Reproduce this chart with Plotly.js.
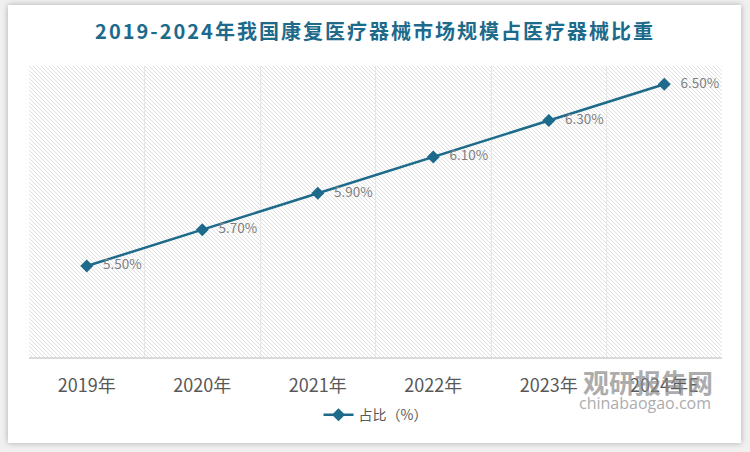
<!DOCTYPE html>
<html>
<head>
<meta charset="utf-8">
<script src="https://cdn.plot.ly/plotly-3.0.1.min.js"></script>
<style>
  html, body { margin: 0; padding: 0; background: #f0f0f0; }
  #wrap { position: relative; width: 750px; height: 452px; overflow: hidden; }
  #card { position: absolute; left: 8px; top: 5px; width: 733px; height: 438px; background: #ffffff;
          box-shadow: 0 0 6px rgba(0,0,0,0.28); }
  #chart { position: absolute; left: 0; top: 0; width: 750px; height: 452px; }
  #chart .gtitle { letter-spacing: 2px; }
</style>
</head>
<body>
<div id="wrap">
  <div id="card"></div>
  <div id="chart"></div>
</div>
<script>
const titleText = '2019-2024年我国康复医疗器械市场规模占医疗器械比重';
const categories = ['2019年', '2020年', '2021年', '2022年', '2023年', '2024年E'];
const shareValues = [5.5, 5.7, 5.9, 6.1, 6.3, 6.5];
const seriesName = '占比（%）';

const mainColor = '#1d6a8b';
const cjk = '"Noto Sans CJK SC", "Noto Sans", sans-serif';

// hatched background for the plot area
const pw = 693, ph = 291;
const hatchSvg =
  '<svg xmlns="http://www.w3.org/2000/svg" width="' + pw + '" height="' + ph + '">' +
  '<defs><pattern id="h" patternUnits="userSpaceOnUse" width="4" height="4">' +
  '<rect width="4" height="4" fill="#ffffff"/>' +
  '<path d="M-1,-1 L5,5 M-1,3 L1,5 M3,-1 L5,1" stroke="#e0e0e0" stroke-width="1"/>' +
  '</pattern></defs><rect width="' + pw + '" height="' + ph + '" fill="url(#h)"/></svg>';
const hatchUri = 'data:image/svg+xml;base64,' + btoa(hatchSvg);

const trace = {
  type: 'scatter',
  mode: 'lines+markers+text',
  x: categories,
  y: shareValues,
  name: seriesName,
  line: { color: mainColor, width: 2.5 },
  marker: { symbol: 'diamond', size: 10, color: mainColor },
  texttemplate: '\u00a0\u00a0\u00a0%{y:.2f}%',
  textposition: 'middle right',
  textfont: { family: cjk, size: 13.5, color: '#7f7f7f' },
  cliponaxis: false,
  hoverinfo: 'skip'
};

const layout = {
  width: 750,
  height: 452,
  margin: { l: 29, r: 28, t: 66, b: 95 },
  paper_bgcolor: 'rgba(0,0,0,0)',
  plot_bgcolor: 'rgba(0,0,0,0)',
  title: {
    text: '<b>' + titleText + '</b>',
    font: { family: cjk, size: 20, color: mainColor },
    x: 0.5, xanchor: 'center',
    y: 1 - 32 / 452, yanchor: 'middle', yref: 'container'
  },
  xaxis: {
    type: 'category',
    range: [-0.5, 5.5],
    tickson: 'boundaries',
    showgrid: true,
    gridcolor: '#e6e6e6',
    gridwidth: 1,
    showline: true,
    linecolor: '#d9d9d9',
    linewidth: 1.5,
    ticks: '',
    ticklabelstandoff: 12,
    tickfont: { family: cjk, size: 18, color: '#595959' },
    zeroline: false,
    fixedrange: true
  },
  yaxis: {
    range: [5.0, 6.6],
    showgrid: false,
    showticklabels: false,
    zeroline: false,
    showline: false,
    ticks: '',
    fixedrange: true
  },
  showlegend: true,
  legend: {
    orientation: 'h',
    x: 0.5, xanchor: 'center',
    y: -0.2, yanchor: 'middle',
    font: { family: cjk, size: 14, color: '#595959' },
    bgcolor: 'rgba(0,0,0,0)'
  },
  images: [{
    source: hatchUri,
    xref: 'paper', yref: 'paper',
    x: 0, y: 1, sizex: 1, sizey: 1,
    xanchor: 'left', yanchor: 'top',
    sizing: 'stretch',
    layer: 'below'
  }],
  annotations: [
    {
      text: '<b>观研报告网</b>',
      xref: 'paper', yref: 'paper',
      x: (648 - 29) / 693, y: (357 - 381) / 291,
      xanchor: 'center', yanchor: 'middle',
      showarrow: false,
      font: { family: cjk, size: 26, color: '#8a8a8a' },
      opacity: 0.7
    },
    {
      text: 'chinabaogao.com',
      xref: 'paper', yref: 'paper',
      x: (645 - 29) / 693, y: (357 - 403) / 291,
      xanchor: 'center', yanchor: 'middle',
      showarrow: false,
      font: { family: '"Open Sans", sans-serif', size: 16, color: '#8a8a8a' },
      opacity: 0.7
    }
  ]
};

Plotly.newPlot('chart', [trace], layout, { displayModeBar: false, staticPlot: true });
</script>
</body>
</html>
